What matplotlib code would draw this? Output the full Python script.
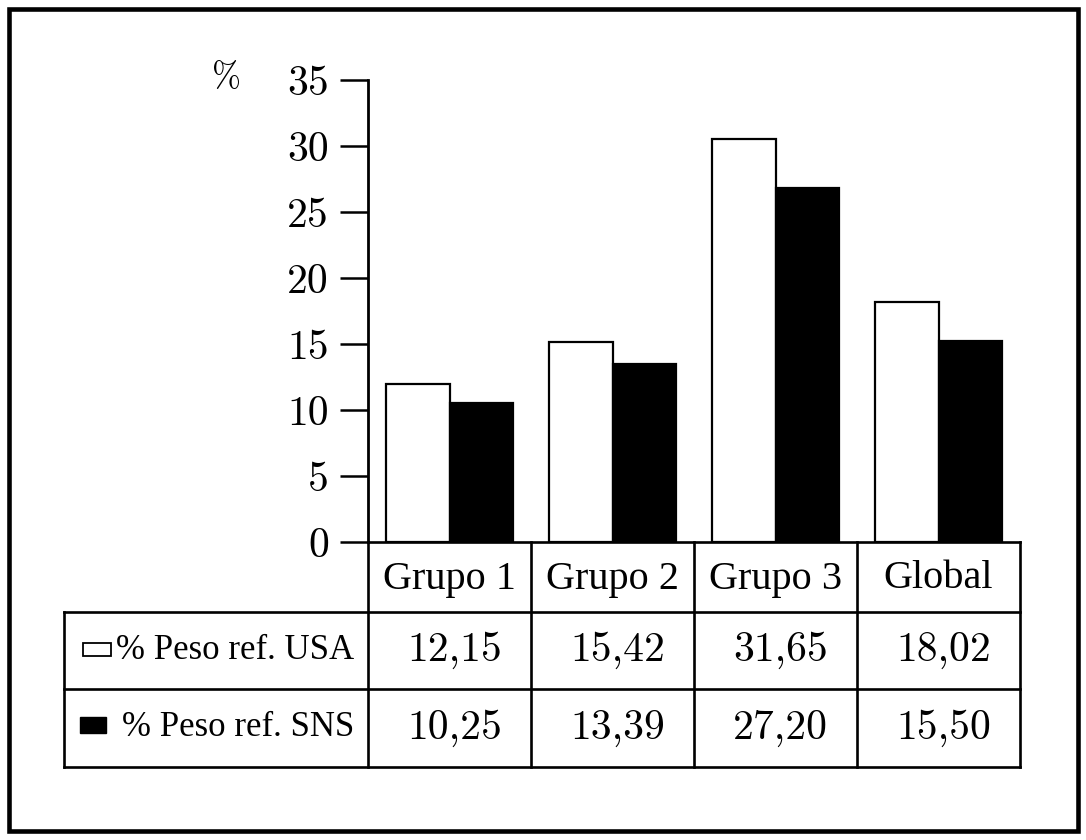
import numpy as np
import matplotlib.pyplot as plt
from matplotlib.patches import Rectangle

plt.rcParams['font.family'] = 'cmr10'
plt.rcParams['axes.formatter.use_mathtext'] = True

grupos = ["Grupo 1", "Grupo 2", "Grupo 3", "Global"]
series = ["% Peso ref. USA", "% Peso ref. SNS"]
# altura de las barras
usa_barras = [11.97, 15.17, 30.55, 18.2]
sns_barras = [10.5, 13.46, 26.8, 15.23]
# valores de la tabla
usa_tabla = [12.15, 15.42, 31.65, 18.02]
sns_tabla = [10.25, 13.39, 27.20, 15.50]
yticks = [0, 5, 10, 15, 20, 25, 30, 35]

W, H = 1086, 840
fig = plt.figure(figsize=(W / 100, H / 100), dpi=100)

# capa de fondo en pixeles: marco y tabla
bg = fig.add_axes([0, 0, 1, 1])
bg.set_xlim(0, W)
bg.set_ylim(H, 0)
bg.axis('off')

x0, x1, y_top, y_base = 368, 1020, 80, 542
ax = fig.add_axes([x0 / W, (H - y_base) / H, (x1 - x0) / W, (y_base - y_top) / H])
ax.set_facecolor('none')

x = np.arange(len(grupos))
w = 0.39
ax.bar(x - w / 2, usa_barras, w, color='white', edgecolor='black', linewidth=1.6)
ax.bar(x + w / 2, sns_barras, w, color='black', edgecolor='black', linewidth=1.6)
ax.set_xlim(-0.5, len(grupos) - 0.5)
ax.set_ylim(0, 35)
ax.set_yticks(yticks)
ax.set_yticklabels([str(t) for t in yticks], fontsize=30)
ax.tick_params(axis='y', length=20, width=1.8, pad=8)
ax.set_xticks([])
for s in ['top', 'right', 'bottom']:
    ax.spines[s].set_visible(False)
ax.spines['left'].set_linewidth(2)

fig.text(227 / W, 1 - 78 / H, "%", ha='center', va='center', fontsize=25)

# tabla
cols = np.linspace(x0, x1, len(grupos) + 1)
centros = (cols[:-1] + cols[1:]) / 2
filas = [542, 612, 689, 767]
izq = 64
lw = 1.9
bg.plot([x0, x1], [filas[0], filas[0]], color='black', lw=lw)
for yy in filas[1:]:
    bg.plot([izq, x1], [yy, yy], color='black', lw=lw)
for cx in cols:
    bg.plot([cx, cx], [filas[0], filas[-1]], color='black', lw=lw)
bg.plot([izq, izq], [filas[1], filas[-1]], color='black', lw=lw)

for cx, g in zip(centros, grupos):
    bg.text(cx, (filas[0] + filas[1]) / 2 + 2, g, ha='center', va='center',
            fontsize=29, family='Liberation Serif')

for i, vals in enumerate([usa_tabla, sns_tabla]):
    yc = (filas[i + 1] + filas[i + 2]) / 2
    for cx, v in zip(centros, vals):
        bg.text(cx + 5, yc, f"{v:.2f}".replace('.', ','), ha='center', va='center', fontsize=30)
    bg.text(354, yc, series[i], ha='right', va='center', fontsize=25,
            family='Liberation Serif')

# simbolos de la leyenda
bg.add_patch(Rectangle((83, 643), 28, 13, facecolor='white', edgecolor='black', lw=1.3))
bg.add_patch(Rectangle((80, 717), 26, 16, facecolor='black', edgecolor='black', lw=1.0))

# marco exterior
bg.add_patch(Rectangle((9, 9), 1069, 822, fill=False, edgecolor='black', lw=3.3))

fig.savefig('out.png', dpi=100)
